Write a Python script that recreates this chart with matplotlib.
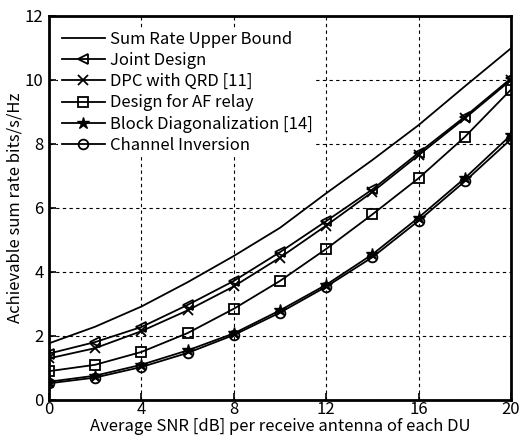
import matplotlib
matplotlib.use('Agg')
import matplotlib.pyplot as plt

plt.rcParams['font.family'] = ['Noto Sans CJK JP', 'DejaVu Sans']

snr_db = [0, 2, 4, 6, 8, 10, 12, 14, 16, 18, 20]

upper_bound = [1.77, 2.29, 2.92, 3.68, 4.50, 5.38, 6.46, 7.50, 8.59, 9.80, 10.99]
joint_design = [1.45, 1.81, 2.28, 2.97, 3.72, 4.62, 5.59, 6.58, 7.72, 8.85, 10.05]
dpc_qrd = [1.30, 1.62, 2.15, 2.80, 3.55, 4.45, 5.45, 6.50, 7.65, 8.80, 10.00]
af_relay = [0.90, 1.10, 1.50, 2.09, 2.85, 3.72, 4.72, 5.80, 6.93, 8.22, 9.70]
block_diag = [0.57, 0.76, 1.10, 1.55, 2.08, 2.80, 3.60, 4.55, 5.70, 6.93, 8.28]
chan_inv = [0.52, 0.70, 1.03, 1.47, 2.03, 2.73, 3.54, 4.46, 5.60, 6.83, 8.15]

labels = ['Sum Rate Upper Bound', 'Joint Design', 'DPC with QRD [11]',
          'Design for AF relay', 'Block Diagonalization [14]', 'Channel Inversion']

fig = plt.figure(figsize=(5.25, 4.38), dpi=100)
ax = fig.add_axes([0.0933, 0.0868, 0.88, 0.8767])

series = [upper_bound, joint_design, dpc_qrd, af_relay, block_diag, chan_inv]
markers = [None, '<', 'x', 's', '*', 'o']
for vals, mk, lab in zip(series, markers, labels):
    if mk == '*':
        ax.plot(snr_db, vals, color='k', lw=1.3, marker=mk, ms=9, mfc='k', mec='k', label=lab)
    else:
        ax.plot(snr_db, vals, color='k', lw=1.3, marker=mk, ms=7, mfc='none', mec='k',
                mew=1.3, label=lab)

ax.set_xlim(0, 20)
ax.set_ylim(0, 12)
ax.set_xticks([0, 4, 8, 12, 16, 20])
ax.set_yticks([0, 2, 4, 6, 8, 10, 12])
ax.grid(True, color='k', linestyle=(0, (3, 3)), lw=0.8)
ax.tick_params(direction='in', length=5, width=1.2, labelsize=12)
ax.tick_params(axis='x', pad=1)
ax.tick_params(axis='y', pad=4)
for sp in ax.spines.values():
    sp.set_linewidth(2)

ax.set_xlabel('Average SNR [dB] per receive antenna of each DU', fontsize=12, labelpad=0)
ax.set_ylabel('Achievable sum rate bits/s/Hz', fontsize=12, labelpad=1)

leg = ax.legend(loc='upper left', bbox_to_anchor=(0.02, 0.97), borderaxespad=0,
                fontsize=12, handlelength=2.6, handletextpad=0.3, labelspacing=0.25,
                frameon=True, fancybox=False, framealpha=1, borderpad=0.2)
leg.get_frame().set_edgecolor('none')

fig.savefig('out.png', dpi=100)
